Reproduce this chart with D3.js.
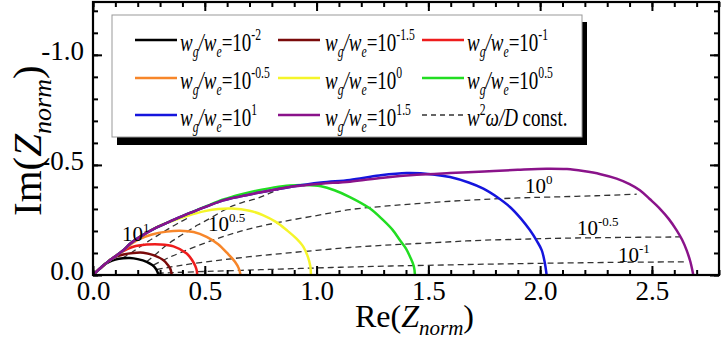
<!DOCTYPE html>
<html><head><meta charset="utf-8">
<script src="https://cdn.jsdelivr.net/npm/d3@7"></script>
<style>
body{margin:0;background:#fff;}
svg{display:block;}
svg text, svg tspan{font-family:"Liberation Serif","Times New Roman",serif !important;fill:#000;}
</style>
</head><body>
<svg id="chart" width="727" height="341"></svg>
<script>
// ---------------- data (Re(Z_norm), -Im(Z_norm)) ----------------
const seriesExponents = ["-2", "-1.5", "-1", "-0.5", "0", "0.5", "1", "1.5"];
const seriesColors = ["#000000", "#7a0a0a", "#ee1c1c", "#f7862a", "#f5f52a", "#22dd22", "#1515dd", "#8a138a"];

const curveBlack = [[0,0],[0.023,0.022],[0.046,0.043],[0.07,0.058],[0.1,0.07],[0.135,0.076],[0.165,0.077],[0.2,0.072],[0.24,0.06],[0.265,0.045],[0.28,0.03],[0.289,0.012],[0.292,0]];
const curveDarkRed = [[0,0],[0.023,0.022],[0.046,0.043],[0.07,0.063],[0.091,0.078],[0.136,0.093],[0.18,0.1],[0.225,0.101],[0.27,0.09],[0.314,0.068],[0.335,0.045],[0.347,0.025],[0.352,0]];
const curveRed = [[0,0],[0.023,0.022],[0.046,0.043],[0.07,0.063],[0.1,0.085],[0.121,0.1],[0.18,0.128],[0.24,0.138],[0.3,0.139],[0.36,0.13],[0.419,0.098],[0.445,0.065],[0.458,0.04],[0.464,0.02],[0.466,0]];
const curveOrange = [[0,0],[0.023,0.022],[0.046,0.043],[0.07,0.063],[0.1,0.085],[0.136,0.113],[0.17,0.14],[0.2,0.16],[0.26,0.183],[0.33,0.197],[0.39,0.201],[0.45,0.195],[0.508,0.173],[0.56,0.14],[0.6,0.1],[0.635,0.06],[0.652,0.03],[0.66,0]];
const curveYellow = [[0,0],[0.023,0.022],[0.046,0.043],[0.07,0.063],[0.1,0.085],[0.136,0.113],[0.17,0.145],[0.21,0.175],[0.285,0.218],[0.344,0.242],[0.42,0.268],[0.5,0.29],[0.56,0.3],[0.62,0.302],[0.7,0.292],[0.762,0.271],[0.82,0.24],[0.866,0.204],[0.91,0.165],[0.941,0.128],[0.962,0.08],[0.972,0.04],[0.975,0]];
const curveGreen = [[0,0],[0.023,0.022],[0.046,0.043],[0.07,0.063],[0.1,0.085],[0.136,0.113],[0.17,0.145],[0.21,0.173],[0.285,0.216],[0.36,0.25],[0.434,0.282],[0.51,0.314],[0.583,0.343],[0.66,0.366],[0.732,0.383],[0.81,0.398],[0.88,0.407],[0.95,0.409],[1.02,0.403],[1.08,0.385],[1.149,0.354],[1.239,0.302],[1.298,0.249],[1.34,0.205],[1.373,0.158],[1.4,0.12],[1.418,0.083],[1.435,0.04],[1.44,0]];
const curveBlue = [[0,0],[0.023,0.022],[0.046,0.043],[0.07,0.063],[0.1,0.085],[0.136,0.113],[0.17,0.145],[0.21,0.173],[0.285,0.216],[0.36,0.25],[0.434,0.282],[0.51,0.312],[0.583,0.339],[0.66,0.357],[0.732,0.372],[0.81,0.387],[0.881,0.4],[1.02,0.42],[1.149,0.432],[1.28,0.452],[1.403,0.463],[1.521,0.457],[1.597,0.445],[1.68,0.42],[1.746,0.392],[1.81,0.352],[1.865,0.309],[1.915,0.255],[1.954,0.204],[1.985,0.155],[2.007,0.113],[2.02,0.06],[2.029,0]];
const curvePurple = [[0,0],[0.023,0.022],[0.046,0.043],[0.07,0.063],[0.1,0.085],[0.136,0.113],[0.17,0.145],[0.21,0.173],[0.285,0.216],[0.36,0.25],[0.434,0.282],[0.51,0.312],[0.583,0.339],[0.66,0.357],[0.732,0.372],[0.81,0.387],[0.881,0.4],[0.95,0.408],[1.02,0.415],[1.149,0.424],[1.298,0.442],[1.448,0.455],[1.597,0.463],[1.75,0.47],[1.9,0.478],[2.029,0.483],[2.12,0.481],[2.193,0.472],[2.27,0.458],[2.342,0.438],[2.4,0.413],[2.446,0.385],[2.49,0.345],[2.535,0.302],[2.575,0.255],[2.61,0.204],[2.635,0.16],[2.655,0.113],[2.672,0.06],[2.685,0]];
const seriesCurves = [curveBlack, curveDarkRed, curveRed, curveOrange, curveYellow, curveGreen, curveBlue, curvePurple];

// dashed lines of constant w^2 omega / D
const constExponents = ["1", "0.5", "0", "-0.5", "-1"];
const constLine1 = [[0.13,0.076],[0.17,0.1],[0.21,0.128],[0.25,0.155],[0.29,0.18],[0.33,0.205],[0.38,0.235],[0.43,0.262]];
const constLine05 = [[0.24,0.06],[0.285,0.098],[0.329,0.136],[0.375,0.168],[0.419,0.196],[0.47,0.228],[0.523,0.257],[0.57,0.285],[0.613,0.309],[0.67,0.33],[0.732,0.347],[0.78,0.367],[0.822,0.385],[0.86,0.398]];
const constLine0 = [[0.27,0.045],[0.33,0.075],[0.4,0.105],[0.5,0.145],[0.6,0.18],[0.7,0.21],[0.836,0.24],[1.0,0.27],[1.149,0.297],[1.3,0.312],[1.448,0.324],[1.6,0.335],[1.746,0.343],[1.9,0.35],[2.044,0.354],[2.25,0.36],[2.432,0.367]];
const constLineM05 = [[0.285,0.025],[0.4,0.045],[0.55,0.065],[0.7,0.083],[0.85,0.098],[1.0,0.112],[1.149,0.125],[1.3,0.135],[1.448,0.143],[1.6,0.151],[1.746,0.158],[1.9,0.162],[2.044,0.166],[2.3,0.17],[2.625,0.173]];
const constLineM1 = [[0.29,0.008],[0.5,0.016],[0.75,0.024],[1.0,0.032],[1.25,0.039],[1.5,0.044],[1.75,0.049],[2.0,0.053],[2.3,0.057],[2.66,0.06]];
const constLines = [constLine1, constLine05, constLine0, constLineM05, constLineM1];
// label anchors (data coordinates) for the dashed lines
const constLabelRe = [0.13, 0.514, 1.932, 2.165, 2.348];
const constLabelIm = [0.154, 0.199, 0.371, 0.181, 0.059];

const xMajorTicks = [0, 0.5, 1.0, 1.5, 2.0, 2.5];
const yMajorTicks = [0, 0.5, 1.0];

// ---------------- drawing ----------------
const FONT = "'Liberation Serif', 'Times New Roman', serif";
const svg = d3.select("#chart");
const x = d3.scaleLinear().domain([0, 2.8]).range([93, 719]);
const y = d3.scaleLinear().domain([0, 1.24]).range([275, 2]);
const xMinor = d3.range(0, 2.81, 0.1).map(v => +v.toFixed(2));
const yMinor = d3.range(0, 1.241, 0.1).map(v => +v.toFixed(2));

const line = d3.line().x(d => x(d[0])).y(d => y(d[1])).curve(d3.curveCatmullRom.alpha(0.5));

svg.append("g").selectAll("path").data(constLines).join("path")
  .attr("d", line).attr("fill", "none").attr("stroke", "#333")
  .attr("stroke-width", 1.3).attr("stroke-dasharray", "6,4");

svg.append("g").selectAll("path").data(seriesCurves).join("path")
  .attr("d", line).attr("fill", "none")
  .attr("stroke", (d, i) => seriesColors[i]).attr("stroke-width", 2.5)
  .attr("stroke-linejoin", "round");

const cl = svg.append("g").selectAll("text").data(constExponents).join("text")
  .attr("x", (d, i) => x(constLabelRe[i])).attr("y", (d, i) => y(constLabelIm[i]))
  .style("font-family", FONT).style("font-size", "21px").style("fill", "#222");
cl.append("tspan").text("10");
cl.append("tspan").style("font-size", "13px").attr("dy", -9).text(d => d);

const fmt = d3.format(".1f");
function styleAxis(g) {
  g.attr("font-family", null).attr("font-size", null);
  g.select(".domain").remove();
  g.selectAll("line").attr("stroke", "#000").attr("stroke-width", 2);
  g.selectAll("text").style("font-family", FONT).style("font-size", "27px").style("fill", "#000");
}
svg.append("g").attr("transform", "translate(0,275)")
  .call(d3.axisBottom(x).tickValues(xMinor).tickSize(-5).tickFormat("")).call(styleAxis);
svg.append("g").attr("transform", "translate(0,275)")
  .call(d3.axisBottom(x).tickValues(xMajorTicks).tickSize(-9).tickPadding(6).tickFormat(fmt)).call(styleAxis);
svg.append("g").attr("transform", "translate(0,2)")
  .call(d3.axisTop(x).tickValues(xMinor).tickSize(-5).tickFormat("")).call(styleAxis);
svg.append("g").attr("transform", "translate(0,2)")
  .call(d3.axisTop(x).tickValues(xMajorTicks).tickSize(-9).tickFormat("")).call(styleAxis);
svg.append("g").attr("transform", "translate(93,0)")
  .call(d3.axisLeft(y).tickValues(yMinor).tickSize(-5).tickFormat("")).call(styleAxis);
const yLab = svg.append("g").attr("transform", "translate(93,0)")
  .call(d3.axisLeft(y).tickValues(yMajorTicks).tickSize(-9).tickPadding(9)
    .tickFormat(d => d === 0 ? "0.0" : "-" + fmt(d))).call(styleAxis);
yLab.selectAll("text").attr("dy", "0.18em");
svg.append("g").attr("transform", "translate(719,0)")
  .call(d3.axisRight(y).tickValues(yMinor).tickSize(-5).tickFormat("")).call(styleAxis);
svg.append("g").attr("transform", "translate(719,0)")
  .call(d3.axisRight(y).tickValues(yMajorTicks).tickSize(-9).tickFormat("")).call(styleAxis);

svg.append("rect").attr("x", 93).attr("y", 2).attr("width", 626).attr("height", 273)
  .attr("fill", "none").attr("stroke", "#000").attr("stroke-width", 2.2);

// axis titles
const xt = svg.append("text").attr("x", 355).attr("y", 327).style("font-family", FONT).style("font-size", "32px");
xt.append("tspan").text("Re(");
xt.append("tspan").style("font-style", "italic").text("Z");
xt.append("tspan").style("font-style", "italic").style("font-size", "21px").attr("dy", 8).text("norm");
xt.append("tspan").attr("dy", -8).text(")");

const yt = svg.append("text").attr("transform", "translate(41,216) rotate(-90)").style("font-family", FONT).style("font-size", "41px");
yt.append("tspan").text("Im(");
yt.append("tspan").style("font-style", "italic").text("Z");
yt.append("tspan").style("font-style", "italic").style("font-size", "26px").attr("dy", 10).text("norm");
yt.append("tspan").attr("dy", -10).text(")");

// legend
const lg = svg.append("g");
lg.append("rect").attr("x", 117).attr("y", 22).attr("width", 470).attr("height", 123).attr("fill", "#000");
lg.append("rect").attr("x", 112).attr("y", 15).attr("width", 470).attr("height", 122)
  .attr("fill", "#fff").attr("stroke", "#999").attr("stroke-width", 1);
const rowY = [40, 78, 115];
const colLineX = [135, 278, 422];
const colTextX = [180, 325, 467];
const condense = 0.73;
seriesExponents.forEach((e, i) => {
  const r = Math.floor(i / 3), c = i % 3;
  lg.append("line").attr("x1", colLineX[c]).attr("x2", colLineX[c] + 42)
    .attr("y1", rowY[r]).attr("y2", rowY[r]).attr("stroke", seriesColors[i]).attr("stroke-width", 2.5);
  const t = lg.append("text")
    .attr("transform", `translate(${colTextX[c]},${rowY[r] + 11}) scale(${condense},1)`)
    .style("font-family", FONT).style("font-size", "26px");
  t.append("tspan").style("font-style", "italic").text("w");
  t.append("tspan").style("font-style", "italic").style("font-size", "16px").attr("dy", 6).text("g");
  t.append("tspan").style("font-style", "italic").attr("dy", -6).text("/");
  t.append("tspan").style("font-style", "italic").text("w");
  t.append("tspan").style("font-style", "italic").style("font-size", "16px").attr("dy", 6).text("e");
  t.append("tspan").attr("dy", -6).text("=10");
  t.append("tspan").style("font-size", "16px").attr("dy", -11).text(e);
});
lg.append("line").attr("x1", colLineX[2]).attr("x2", colLineX[2] + 42)
  .attr("y1", rowY[2]).attr("y2", rowY[2]).attr("stroke", "#333").attr("stroke-width", 1.3).attr("stroke-dasharray", "5,4");
const lt = lg.append("text")
  .attr("transform", `translate(${colTextX[2]},${rowY[2] + 11}) scale(${condense},1)`)
  .style("font-family", FONT).style("font-size", "26px");
lt.append("tspan").style("font-style", "italic").text("w");
lt.append("tspan").style("font-size", "16px").attr("dy", -11).text("2");
lt.append("tspan").style("font-style", "italic").attr("dy", 11).text("ω/D");
lt.append("tspan").text(" const.");
</script>
</body></html>
